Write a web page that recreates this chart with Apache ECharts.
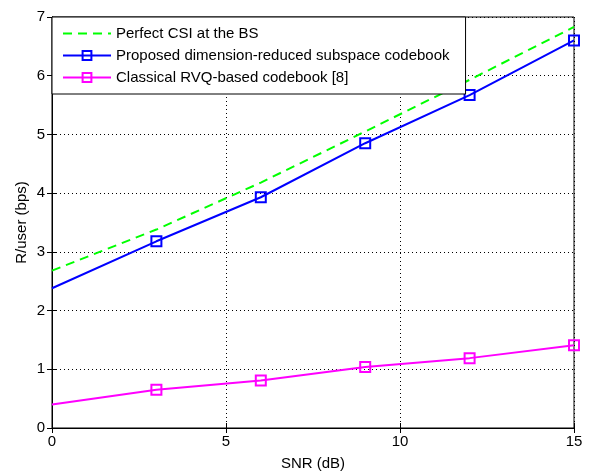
<!DOCTYPE html>
<html>
<head>
<meta charset="utf-8">
<script src="https://cdn.jsdelivr.net/npm/echarts@6/dist/echarts.min.js"></script>
<style>
  html, body { margin: 0; padding: 0; background: #fff; }
  #chart { width: 590px; height: 471px; }
</style>
</head>
<body>
<div id="chart"></div>
<script>
  // SNR points (dB)
  var snr = [0, 3, 6, 9, 12, 15];
  // R/user (bps)
  var perfectCsi = [2.68, 3.38, 4.18, 5.05, 5.93, 6.83];
  var proposed = [2.38, 3.18, 3.93, 4.85, 5.67, 6.60];
  var classical = [0.40, 0.65, 0.81, 1.04, 1.19, 1.41];

  var seriesNames = [
    'Perfect CSI at the BS',
    'Proposed dimension-reduced subspace codebook',
    'Classical RVQ-based codebook [8]'
  ];

  // first point has no marker (markers only at 3,6,...)
  function pts(ys) {
    return snr.map(function (x, i) {
      var p = { value: [x, ys[i]] };
      if (i === 0) p.symbol = 'none';
      return p;
    });
  }

  var font = 'Liberation Sans, Arial, sans-serif';
  var chart = echarts.init(document.getElementById('chart'));

  var option = {
    backgroundColor: '#ffffff',
    animation: false,
    grid: {
      left: 52, right: 16, top: 17, bottom: 43,
      outerBoundsMode: 'none',
      show: true, borderColor: '#000', borderWidth: 1
    },
    legend: {
      orient: 'vertical',
      left: 52, top: 17,
      data: [
        { name: seriesNames[0], itemStyle: { opacity: 0 } },
        seriesNames[1],
        seriesNames[2]
      ],
      backgroundColor: '#fff',
      borderColor: '#000',
      borderWidth: 1,
      padding: [9, 16, 9, 10],
      itemGap: 7,
      itemWidth: 48,
      itemHeight: 11,
      textStyle: { fontFamily: font, fontSize: 15, color: '#000' }
    },
    xAxis: [{
      type: 'value', min: 0, max: 15, interval: 5,
      name: 'SNR (dB)', nameLocation: 'middle', nameGap: 28,
      nameMoveOverlap: false,
      nameTextStyle: { fontFamily: font, fontSize: 15, color: '#000' },
      axisLine: { lineStyle: { color: '#000' } },
      axisTick: { inside: true, length: 5, lineStyle: { color: '#000' } },
      axisLabel: { fontFamily: font, fontSize: 15, color: '#000', margin: 6 },
      splitLine: { show: true, lineStyle: { type: [1, 3], color: '#000' } }
    }, {
      type: 'value', min: 0, max: 15, interval: 5, position: 'top',
      axisLine: { lineStyle: { color: '#000' } },
      axisTick: { inside: true, length: 5, lineStyle: { color: '#000' } },
      axisLabel: { show: false },
      splitLine: { show: false }
    }],
    yAxis: [{
      type: 'value', min: 0, max: 7, interval: 1,
      name: 'R/user (bps)', nameLocation: 'middle', nameGap: 23,
      nameMoveOverlap: false,
      nameTextStyle: { fontFamily: font, fontSize: 15, color: '#000' },
      axisLine: { show: true, lineStyle: { color: '#000' } },
      axisTick: { show: true, inside: true, length: 5, lineStyle: { color: '#000' } },
      axisLabel: { fontFamily: font, fontSize: 15, color: '#000', margin: 7 },
      splitLine: { show: true, lineStyle: { type: [1, 3], color: '#000' } }
    }, {
      type: 'value', min: 0, max: 7, interval: 1, position: 'right',
      axisLine: { show: true, lineStyle: { color: '#000' } },
      axisTick: { show: true, inside: true, length: 5, lineStyle: { color: '#000' } },
      axisLabel: { show: false },
      splitLine: { show: false }
    }],
    series: [{
      name: seriesNames[0],
      type: 'line',
      data: pts(perfectCsi),
      symbol: 'none',
      lineStyle: { color: '#00ff00', width: 2, type: [9, 6] },
      itemStyle: { color: '#00ff00' }
    }, {
      name: seriesNames[1],
      type: 'line',
      data: pts(proposed),
      symbol: 'rect',
      symbolSize: 10,
      lineStyle: { color: '#0000ff', width: 2 },
      itemStyle: { color: 'rgba(255,255,255,0)', borderColor: '#0000ff', borderWidth: 2 }
    }, {
      name: seriesNames[2],
      type: 'line',
      data: pts(classical),
      symbol: 'rect',
      symbolSize: 10,
      lineStyle: { color: '#ff00ff', width: 2 },
      itemStyle: { color: 'rgba(255,255,255,0)', borderColor: '#ff00ff', borderWidth: 2 }
    }]
  };

  chart.setOption(option);
</script>
</body>
</html>
